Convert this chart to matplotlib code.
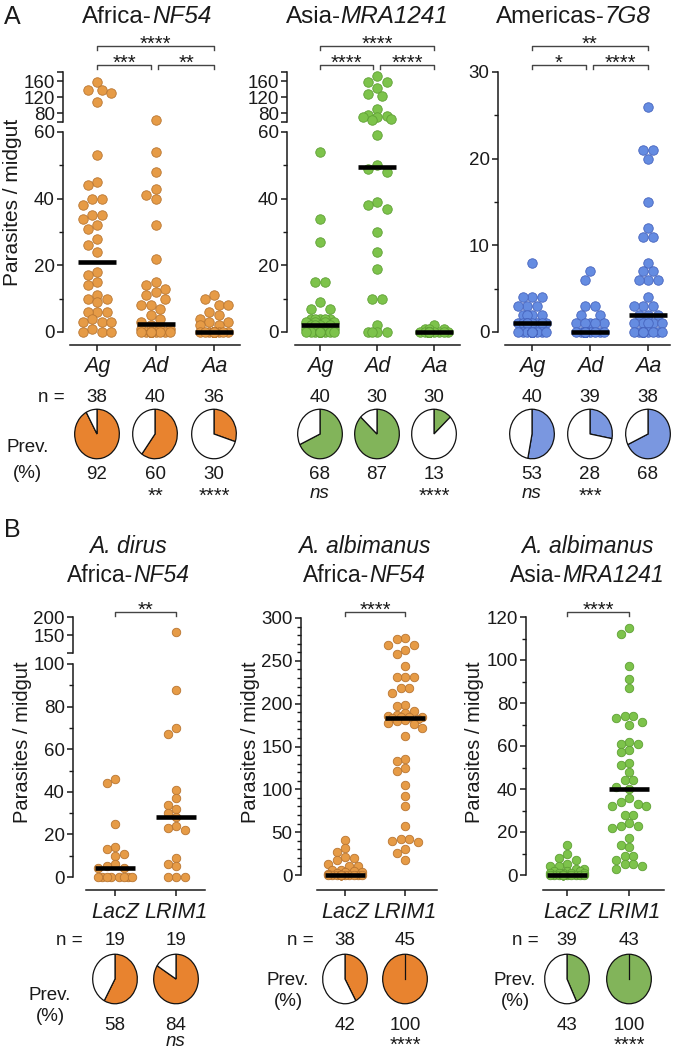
import numpy as np
import matplotlib.pyplot as plt
from matplotlib.lines import Line2D

plt.rcParams['font.family'] = ['Liberation Sans', 'DejaVu Sans']

# ---------------- data: parasites / midgut ----------------
# panel A, Africa-NF54
nf54_ag = [157, 138, 137, 131, 108, 53, 45, 44, 40, 40, 38, 35, 35, 34, 32, 31, 28, 26, 24,
           18, 17, 15, 14, 11, 10, 10, 9, 6, 6, 6, 4, 3, 3, 3, 1, 0, 0, 0]
nf54_ad = [62, 54, 48, 43, 41, 40, 32, 22, 15, 14, 13, 12, 11, 10, 8, 8, 7, 5, 4,
           3, 2, 1, 1, 1] + [0] * 16
nf54_aa = [11, 10, 8, 8, 6, 5, 4, 3, 3, 2, 2] + [0] * 25
# panel A, Asia-MRA1241
mra_ag = [54, 34, 27, 15, 15, 9, 7, 7, 4, 4, 4, 4, 4,
          3, 3, 3, 3, 2, 2, 2, 2, 1, 1, 1, 1, 1, 1] + [0] * 13
mra_ad = [172, 157, 157, 143, 127, 122, 90, 75, 72, 71, 70, 64, 63, 59, 50, 49, 48,
          39, 38, 37, 30, 24, 19, 10, 10, 2, 0, 0, 0, 0]
mra_aa = [2, 1, 1, 1] + [0] * 26
# panel A, Americas-7G8
g8_ag = [8, 4, 4, 4, 3, 3, 3, 2, 2, 2, 2] + [1] * 10 + [0] * 19
g8_ad = [7, 6, 3, 3, 2, 2, 1, 1, 1, 1, 1] + [0] * 28
g8_aa = [26, 21, 21, 20, 15, 12, 11, 11, 8, 7, 7, 6, 6, 6, 4, 3, 3, 3, 2, 2, 2] + [1] * 5 + [0] * 12

# panel B
dirus_lacz = [46, 44, 25, 14, 13, 11, 10, 6, 5, 4, 4] + [0] * 8
dirus_lrim1 = [157, 88, 70, 67, 41, 37, 34, 32, 30, 28, 24, 23, 22, 9, 6, 5, 0, 0, 0]
alb_nf54_lacz = [41, 31, 27, 21, 20, 17, 13, 11, 11, 6, 6, 5, 4, 3, 2, 1] + [0] * 22
alb_nf54_lrim1 = [277, 275, 269, 269, 263, 258, 244, 231, 231, 231, 218, 218, 212, 199, 197,
                  191, 189, 187, 186, 185, 184, 184, 183, 182, 181, 180, 178, 176, 172, 162,
                  135, 133, 125, 121, 105, 92, 81, 57, 42, 42, 40, 38, 30, 26, 18]
alb_mra_lacz = [14, 10, 8, 7, 5, 4, 4, 3, 3, 2, 2, 2, 1, 1, 1, 1, 1] + [0] * 22
alb_mra_lrim1 = [115, 112, 97, 91, 87, 74, 74, 73, 71, 70, 62, 61, 61, 58, 57, 52, 51, 48,
                 44, 44, 41, 40, 36, 34, 33, 32, 32, 28, 28, 24, 23, 23, 22, 17, 14, 13,
                 9, 9, 7, 5, 5, 4, 3]

A_titles = [('Africa-', 'NF54'), ('Asia-', 'MRA1241'), ('Americas-', '7G8')]
A_groups = ['Ag', 'Ad', 'Aa']
A_data = [[nf54_ag, nf54_ad, nf54_aa], [mra_ag, mra_ad, mra_aa], [g8_ag, g8_ad, g8_aa]]
A_prev = [[92, 60, 30], [68, 87, 13], [53, 28, 68]]
A_prev_sig = [['', '**', '****'], ['ns', '', '****'], ['ns', '***', '']]
A_pair_sig = [['***', '**', '****'], ['****', '****', '****'], ['*', '****', '**']]

B_titles = [('A. dirus', 'Africa-', 'NF54'), ('A. albimanus', 'Africa-', 'NF54'),
            ('A. albimanus', 'Asia-', 'MRA1241')]
B_groups = ['LacZ', 'LRIM1']
B_data = [[dirus_lacz, dirus_lrim1], [alb_nf54_lacz, alb_nf54_lrim1], [alb_mra_lacz, alb_mra_lrim1]]
B_prev = [[58, 84], [42, 100], [43, 100]]
B_prev_sig = [['', 'ns'], ['', '****'], ['', '****']]
B_pair_sig = ['**', '****', '****']

orange = ('#E69B46', '#B97632', '#E8832F')
green = ('#7DC34B', '#5FA035', '#82B45A')
blue = ('#658CE1', '#4664BE', '#7A97E0')
A_colors = [orange, green, blue]
B_colors = [orange, orange, green]

# ---------------- helpers (pixel coordinates, origin top-left) ----------------
W, H = 680, 1053
fig = plt.figure(figsize=(W / 100, H / 100), dpi=100)
renderer = fig.canvas.get_renderer()
INK = '#1a1a1a'


def frac_rect(x0, y0, x1, y1):
    return [x0 / W, 1 - y1 / H, (x1 - x0) / W, (y1 - y0) / H]


def text_px(x, y, s, size, ha='center', va='baseline', **kw):
    return fig.text(x / W, 1 - y / H, s, fontsize=size, ha=ha, va=va, color=kw.pop('color', INK), **kw)


def line_px(xs, ys, **kw):
    fig.add_artist(Line2D([x / W for x in xs], [1 - y / H for y in ys],
                          transform=fig.transFigure, **kw))


def mixed_px(xc, y, parts, size):
    objs = [text_px(0, y, s, size, ha='left', style=st) for s, st in parts]
    widths = [o.get_window_extent(renderer).width for o in objs]
    x = xc - sum(widths) / 2
    for o, w in zip(objs, widths):
        o.set_x(x / W)
        x += w


def bracket(x0, x1, y, label):
    line_px([x0, x0, x1, x1], [y + 4, y, y, y + 4], color='#444', lw=1.0)
    text_px((x0 + x1) / 2, y + 4, label, 14.5)


def swarm(vals, ypix, diam, half_w):
    # simple beeswarm in pixels: nearest free slot, ties laid out symmetrically
    vals = np.asarray(vals, float)
    step = diam / 2
    k = np.floor(half_w / step)
    grid = np.arange(-k, k + 1) * step
    uniq, counts = np.unique(vals, return_counts=True)
    cnt = dict(zip(uniq, counts))
    offs = np.zeros(len(vals))
    placed = []
    for i in np.argsort(-vals, kind='stable'):
        y = ypix(vals[i])
        even = cnt[vals[i]] % 2 == 0
        key = np.abs(grid) + (100.0 * (grid == 0) if even else 0) + 1e-3 * (grid > 0)
        best, bestd = 0.0, -1.0
        for c in grid[np.argsort(key)]:
            d = min((np.hypot(c - px, y - py) for px, py in placed), default=1e9)
            if d >= 0.97 * diam:
                best = c
                break
            if d > bestd + 1e-9:
                best, bestd = c, d
        placed.append((best, y))
        offs[i] = best
    return offs


def panel(spine_x, right_x, cats, xaxis, xaxis_y, segs, groups, col, diam, bar_px, half_w):
    sp = (cats[-1] - cats[0]) / (len(cats) - 1)
    xl = ((spine_x - cats[0]) / sp, (right_x - cats[0]) / sp)

    def ypix(v):
        for top, bot, (lo, hi), *_ in segs:
            if v <= hi or top == segs[-1][0]:
                return bot - (v - lo) / (hi - lo) * (bot - top)

    offsets = [swarm(g, ypix, diam, half_w) / sp for g in groups]
    size = (diam / 1.389) ** 2
    for j, (top, bot, ylim, major, labels, minor) in enumerate(segs):
        ax = fig.add_axes(frac_rect(spine_x, top, right_x, bot))
        ax.set_xlim(*xl)
        ax.set_ylim(*ylim)
        ax.patch.set_visible(False)
        for s in ('top', 'right'):
            ax.spines[s].set_visible(False)
        ax.spines['left'].set_bounds(*ylim)
        ax.spines['left'].set_linewidth(1.1)
        ax.spines['left'].set_color(INK)
        ax.set_yticks(major, labels=labels)
        ax.set_yticks(minor, minor=True)
        ax.tick_params(axis='y', which='major', length=4.5, width=1.1, color=INK,
                       labelsize=13.5, pad=1.5, labelcolor=INK)
        ax.tick_params(axis='y', which='minor', length=2.6, width=1.0, color=INK)
        lo_v = segs[j - 1][2][1] if j > 0 else -np.inf
        hi_v = ylim[1] if j < len(segs) - 1 else np.inf
        for i, g in enumerate(groups):
            v = np.asarray(g, float)
            m = (v > lo_v) & (v <= hi_v)
            ax.scatter(i + offsets[i][m], v[m], s=size, c=col[0], edgecolors=col[1],
                       linewidths=0.6, clip_on=False, zorder=3)
            med = np.median(g)
            if lo_v < med <= hi_v:
                hw = bar_px / 2 / sp
                ax.plot([i - hw, i + hw], [med, med], color='black', lw=3.3,
                        solid_capstyle='butt', clip_on=False, zorder=4)
        if j == 0:
            ax.spines['bottom'].set_position(('outward', (xaxis_y - bot) * 0.72))
            ax.spines['bottom'].set_bounds((xaxis[0] - cats[0]) / sp, (xaxis[1] - cats[0]) / sp)
            ax.spines['bottom'].set_linewidth(1.1)
            ax.spines['bottom'].set_color(INK)
            ax.set_xticks(range(len(cats)))
            ax.tick_params(axis='x', length=4, width=1.1, color=INK, labelbottom=False)
        else:
            ax.spines['bottom'].set_visible(False)
            ax.tick_params(axis='x', bottom=False, labelbottom=False)


def pie(cx, cy, pct, color, w=46, h=51):
    ax = fig.add_axes(frac_rect(cx - w / 2, cy - h / 2, cx + w / 2, cy + h / 2))
    vals = [pct, 100 - pct] if pct < 100 else [100]
    ax.pie(vals, colors=[color, 'white'][:len(vals)], startangle=90, counterclock=False,
           wedgeprops=dict(edgecolor='#111', linewidth=0.9))
    if pct >= 100:
        ax.plot([0, 0], [0, 1], color='#111', lw=0.9)
    ax.set_aspect('auto')
    ax.set_xlim(-1.03, 1.03)
    ax.set_ylim(-1.03, 1.03)
    ax.axis('off')


# ---------------- panel A ----------------
A_spine = [63, 287, 498]
A_right = [245, 465, 675]
A_cats = [[97, 155, 214], [320, 377, 434], [532, 590, 648]]
A_xaxis = [(70, 240), (295, 460), (505, 670)]
A_title_x = [147, 367, 573]

text_px(12, 24, 'A', 18)
for k in range(3):
    if k < 2:
        segs = [(132, 332, (0, 60), [0, 20, 40, 60], ['0', '20', '40', '60'], [10, 30, 50]),
                (72, 122, (57.5, 182.5), [57.5, 80, 120, 160, 182.5],
                 ['', '80', '120', '160', ''], [])]
    else:
        segs = [(72, 332, (0, 30), [0, 10, 20, 30], ['0', '10', '20', '30'], [5, 15, 25])]
    cats = A_cats[k]
    panel(A_spine[k], A_right[k], cats, A_xaxis[k], 345, segs, A_data[k], A_colors[k],
          9.5, 38, 15)
    mixed_px(A_title_x[k], 23, [(A_titles[k][0], 'normal'), (A_titles[k][1], 'italic')], 17.5)
    s01, s12, s02 = A_pair_sig[k]
    bracket(cats[0], cats[2], 46, s02)
    bracket(cats[0], cats[1] - 4, 65, s01)
    bracket(cats[1] + 3, cats[2], 65, s12)
    for i, g in enumerate(A_groups):
        text_px(cats[i], 372, g, 15.5, style='italic')
        text_px(cats[i], 402, str(len(A_data[k][i])), 13.5)
        pie(cats[i], 434, A_prev[k][i], A_colors[k][2])
        text_px(cats[i], 479, str(A_prev[k][i]), 13.5)
        sig = A_prev_sig[k][i]
        if sig == 'ns':
            text_px(cats[i], 498, sig, 13.5, style='italic')
        elif sig:
            text_px(cats[i], 502, sig, 14.5)
text_px(65, 402, 'n =', 13.5, ha='right')
text_px(28, 452, 'Prev.', 13.5)
text_px(27, 478, '(%)', 13.5)
text_px(13, 202, 'Parasites / midgut', 15, va='center', rotation=90)

# ---------------- panel B ----------------
B_spine = [73, 301, 526]
B_right = [210, 440, 668]
B_cats = [[115, 176], [345, 405], [567, 629]]
B_xaxis = [(86, 205), (317, 437), (543, 664)]
B_title_x = [128, 364, 587]
B_ylab_x = [22, 251, 475]
B_n_x = [83, 314, 539]
B_prev_xy = [(50, 1000, 1021), (288, 985, 1006), (515, 985, 1006)]

B_segs = [
    [(664, 877, (0, 100), list(range(0, 101, 20)), [str(t) for t in range(0, 101, 20)],
      list(range(10, 100, 20))),
     (617, 653, (100, 200), [100, 150, 200], ['', '150', '200'], [])],
    [(618, 875, (0, 300), list(range(0, 301, 50)), [str(t) for t in range(0, 301, 50)],
      [t for t in range(10, 300, 10) if t % 50])],
    [(617, 875, (0, 120), list(range(0, 121, 20)), [str(t) for t in range(0, 121, 20)],
      list(range(10, 120, 20)))],
]

text_px(12, 537, 'B', 18)
for k in range(3):
    cats = B_cats[k]
    panel(B_spine[k], B_right[k], cats, B_xaxis[k], 890, B_segs[k], B_data[k], B_colors[k],
          8.5, 40, 17)
    text_px(B_title_x[k], 553, B_titles[k][0], 16.5, style='italic')
    mixed_px(B_title_x[k], 582, [(B_titles[k][1], 'normal'), (B_titles[k][2], 'italic')], 16.5)
    bracket(cats[0], cats[1], 612, B_pair_sig[k])
    text_px(B_ylab_x[k], 742, 'Parasites / midgut', 14.5, va='center', rotation=90)
    text_px(B_n_x[k], 945, 'n =', 13.5, ha='right')
    px, py1, py2 = B_prev_xy[k]
    text_px(px, py1, 'Prev.', 13.5)
    text_px(px, py2, '(%)', 13.5)
    for i, g in enumerate(B_groups):
        text_px(cats[i], 918, g, 15.5, style='italic')
        text_px(cats[i], 945, str(len(B_data[k][i])), 13.5)
        pie(cats[i], 979, B_prev[k][i], B_colors[k][2])
        text_px(cats[i], 1030, str(B_prev[k][i]), 13.5)
        sig = B_prev_sig[k][i]
        if sig == 'ns':
            text_px(cats[i], 1046, sig, 13.5, style='italic')
        elif sig:
            text_px(cats[i], 1051, sig, 14.5)

fig.savefig('out.png', dpi=100)
